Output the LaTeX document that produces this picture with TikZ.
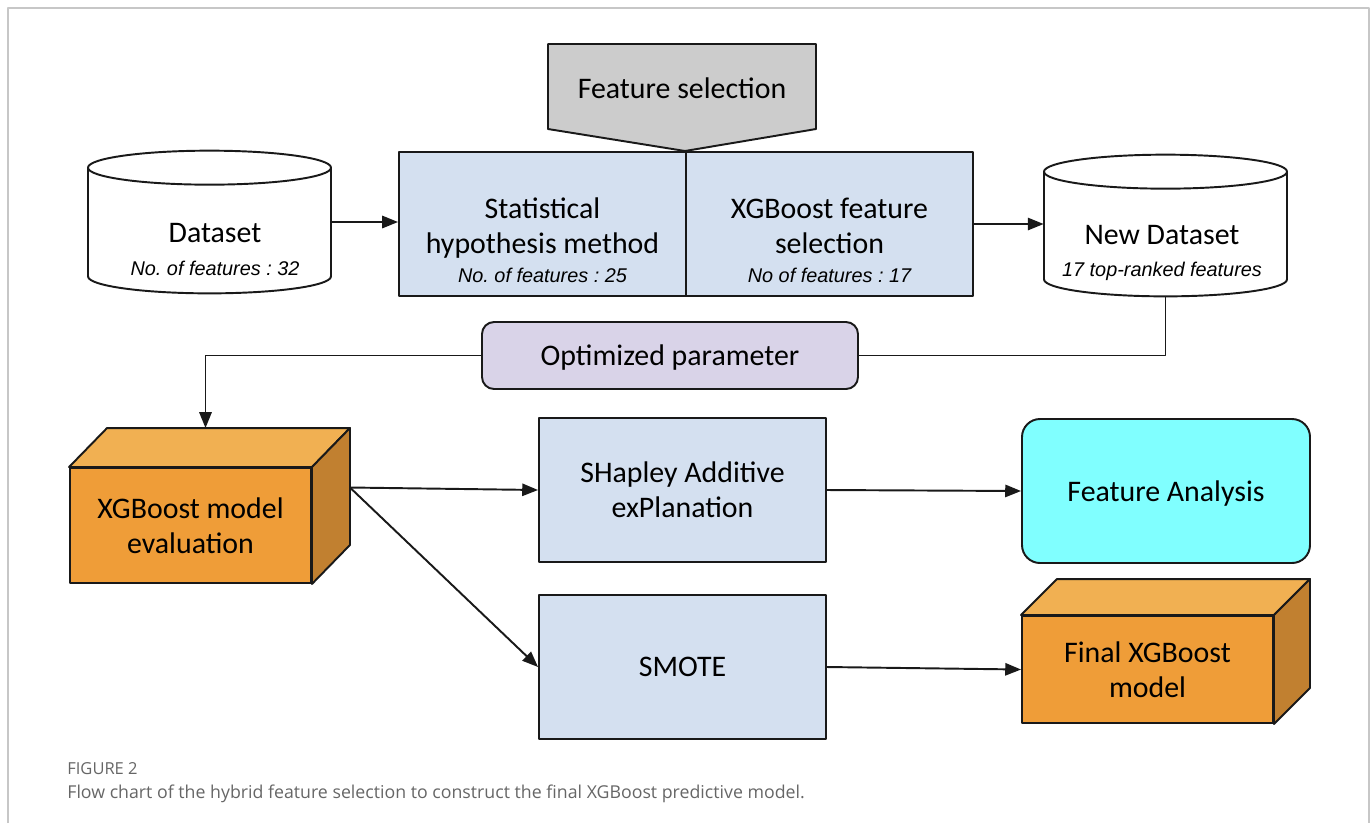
\documentclass[tikz,border=0pt]{standalone}
\usepackage{fontspec}
\setmainfont{Carlito}
\newfontfamily\arialfont{Liberation Sans}
\newfontfamily\capfont{Open Sans}
\usetikzlibrary{arrows.meta, positioning, calc}
\definecolor{lineBlack}{gray}{0.1}
\definecolor{frameGray}{gray}{0.78}
\definecolor{capGray}{gray}{0.4}
\definecolor{boxBlue}{RGB}{212,224,240}
\definecolor{selGray}{RGB}{204,204,204}
\definecolor{paramPurple}{RGB}{217,211,232}
\definecolor{aquaFill}{RGB}{128,255,255}
\definecolor{cubeFront}{RGB}{239,157,56}
\definecolor{cubeTop}{RGB}{241,176,82}
\definecolor{cubeSide}{RGB}{193,128,48}

\tikzset{
    plain/.style={draw=lineBlack, line width=1.1pt},
    bluebox/.style={plain, fill=boxBlue},
    boxsize/.style 2 args={minimum width=#1*0.02cm, minimum height=#2*0.02cm, inner sep=0pt},
    mainfont/.style={font=\fontsize{17}{20}\selectfont, align=center},
    link/.style={->, plain}
}

\newcommand{\subtext}{\arialfont\itshape\fontsize{11.3}{13}\selectfont}

% cylinder drawn round an empty body node: name, x radius, y radius
\newcommand{\dbcylinder}[3]{%
  \draw[plain, fill=white] (#1.south) ellipse [x radius=#2, y radius=#3];
  \fill[white] (#1.south west) rectangle (#1.north east);
  \draw[plain] (#1.south west) -- (#1.north west) (#1.south east) -- (#1.north east);
  \draw[plain, fill=white] (#1.north) ellipse [x radius=#2, y radius=#3];
}
% top and side faces of a box node: name, depth x, depth y
\newcommand{\drawcube}[3]{%
  \draw[plain, fill=cubeTop] (#1.north west) -- ++(#2,-#3) -- ([shift={(#2,-#3)}]#1.north east) -- (#1.north east) -- cycle;
  \draw[plain, fill=cubeSide] (#1.north east) -- ++(#2,-#3) -- ([shift={(#2,-#3)}]#1.south east) -- (#1.south east) -- cycle;
}

\begin{document}
\frenchspacing
\begin{tikzpicture}[x=0.02cm, y=-0.02cm, >={Triangle[length=9pt, width=7pt]}, line join=round]
    \useasboundingbox (0,0) rectangle (1372,823);

    % Frame
    \draw[frameGray, line width=1.2pt] (8,823) -- (8,8) -- (1369,8) -- (1369,823);

    % Feature selection
    \draw[plain, fill=selGray] (548,44) -- (816,44) -- (816,129) -- (685,151) -- (548,129) -- cycle;
    \node[mainfont] (fsel) at (682,88) {Feature selection};

    \node[bluebox, boxsize={287}{144}] (stat) at (542.5,224) {};
    \node[bluebox, boxsize={287}{144}] (xgbfs) at (829.5,224) {};
    \node[mainfont] (stat-t) at (542.5,240) {Statistical\\hypothesis method\\[-3.5pt]{\subtext No. of features : 25}};
    \node[mainfont] (xgbfs-t) at (829.5,240) {XGBoost feature\\selection\\[-3.5pt]{\subtext No of features : 17}};

    % Datasets
    \node[boxsize={243}{108}] (data) at (209.5,222) {};
    \dbcylinder{data}{121.5}{17}
    \node[mainfont] (data-t) at (215,249.5) {Dataset\\[-1.5pt]{\subtext No. of features : 32}};

    \node[boxsize={243}{107}] (newdata) at (1165.5,225.5) {};
    \dbcylinder{newdata}{121.5}{17}
    \node[mainfont] (newdata-t) at (1162,253) {New Dataset\\[-2pt]{\subtext 17 top-ranked features}};

    % Parameter
    \node[plain, fill=paramPurple, rounded corners=0.24cm, boxsize={376}{67}, mainfont, text depth=0pt] (opt) at (670,355.5) {Optimized parameter};

    % Models
    \node[plain, fill=cubeFront, boxsize={241}{115}, mainfont] (eval) at (190.5,525.5) {XGBoost model\\evaluation};
    \drawcube{eval}{38}{39}
    \node[bluebox, boxsize={287}{144}, mainfont] (shap) at (682.5,490) {SHapley Additive\\exPlanation};
    \node[bluebox, boxsize={287}{144}, mainfont] (smote) at (682.5,667) {SMOTE};
    \node[plain, fill=aquaFill, rounded corners=0.36cm, boxsize={288}{144}, mainfont, text depth=0pt] (fa) at (1166,491) {Feature Analysis};
    \node[plain, fill=cubeFront, boxsize={251}{107}, mainfont] (final) at (1147.5,669.5) {Final XGBoost\\model};
    \drawcube{final}{36}{36}

    % Connectors
    \coordinate (evalside) at ([shift={(38,-38)}]eval.east);
    \draw[link] (data.east) -- (data.east -| stat.west);
    \draw[link] (xgbfs.east) -- (xgbfs.east -| newdata.west);
    \draw[plain] ([shift={(0,17)}]newdata.south) |- (opt.east);
    \draw[link] (opt.west) -| ([shift={(15,-39)}]eval.north);
    \draw[link] (evalside) -- (shap.west);
    \draw[link] (evalside) -- (smote.west);
    \draw[link] (shap.east) -- (fa.west);
    \draw[link] (smote.east) -- (final.west);

    % Caption
    \node[anchor=west, inner sep=0pt, text=capGray, font=\capfont\fontsize{9.4}{11}\selectfont] (figno) at (67,769) {FIGURE 2};
    \node[anchor=west, inner sep=0pt, text=capGray, font=\capfont\fontsize{10.1}{12}\selectfont] (caption) at (67,794) {Flow chart of the hybrid feature selection to construct the final XGBoost predictive model.};
\end{tikzpicture}
\end{document}
